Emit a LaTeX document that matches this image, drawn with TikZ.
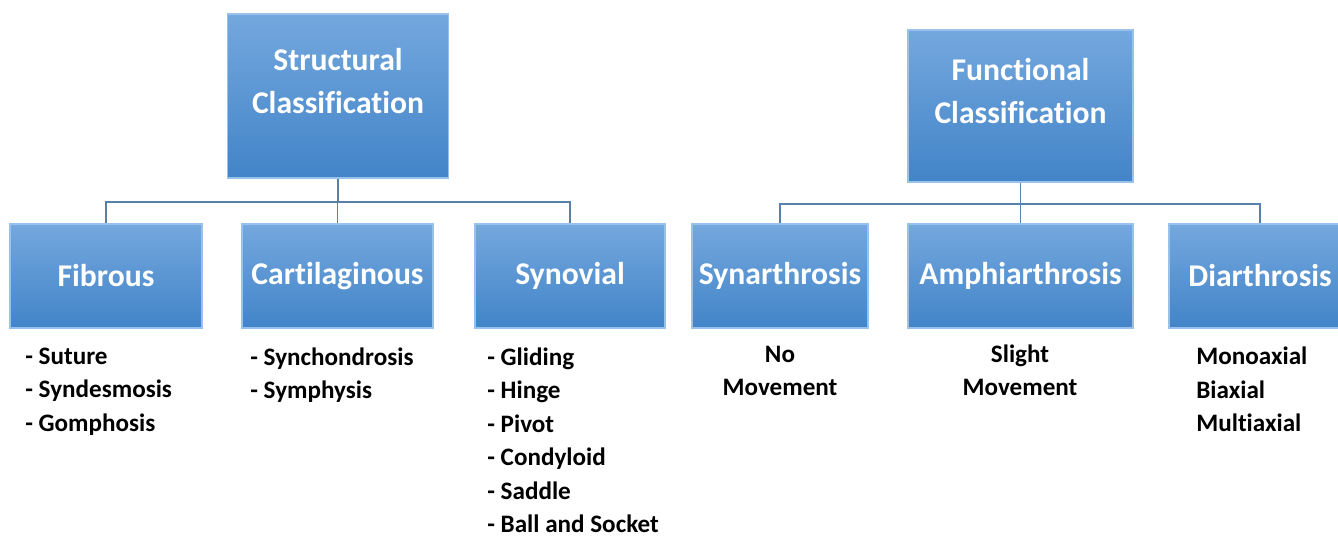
\documentclass[tikz,border=0pt]{standalone}
\usepackage{fontspec}
\setmainfont{Carlito}[Ligatures=NoCommon]
\usepackage{xcolor}
\usetikzlibrary{positioning}

\definecolor{boxtop}{RGB}{116,168,222}
\definecolor{boxbot}{RGB}{66,132,200}
\definecolor{boxedge}{RGB}{150,194,236}
\definecolor{linkcol}{RGB}{88,128,168}

\begin{document}
\begin{tikzpicture}
\tikzstyle{headbox} = [rectangle, draw=boxedge, line width=1pt, top color=boxtop, bottom color=boxbot, text=white, align=center, font=\fontsize{18}{24.4}\selectfont\bfseries]
\tikzstyle{kindbox} = [headbox, minimum height=2.08cm]
\tikzstyle{link} = [draw=linkcol, line width=0.9pt]
\tikzstyle{items} = [inner sep=0pt, font=\fontsize{14.3}{19}\selectfont\bfseries]

\useasboundingbox (0,0) rectangle (26.76,-10.7);
\clip (0,0) rectangle (26.76,-10.7);

% top level
\node (struct) [headbox, minimum width=4.42cm, minimum height=3.28cm, text depth=0.62cm] at (6.76,-1.92) {Structural\\Classification};
\node (func) [headbox, minimum width=4.5cm, minimum height=3.04cm, text depth=0.62cm] at (20.41,-2.12) {Functional\\Classification};

% second level
\node (cart) [kindbox, minimum width=3.82cm] at (6.75,-5.52) {Cartilaginous};
\node (fib) [kindbox, minimum width=3.84cm, left=0.765cm of cart] {Fibrous};
\node (syn) [kindbox, minimum width=3.8cm, right=0.805cm of cart] {Synovial};
\node (synar) [kindbox, minimum width=3.52cm, right=0.505cm of syn] {Synarthrosis};
\node (amphi) [kindbox, minimum width=4.5cm, right=0.765cm of synar] {Amphiarthrosis};
\node (diar) [kindbox, minimum width=3.64cm, right=0.685cm of amphi] {Diarthrosis};

% connectors
\foreach \kid in {fib, cart, syn}
  \draw [link] (struct.south) -- ++(0,-0.46) -| (\kid.north);
\foreach \kid in {synar, amphi, diar}
  \draw [link] (func.south) -- ++(0,-0.42) -| (\kid.north);

% lists
\node (fiblist) [items, anchor=north west, align=left] at (0.5,-6.95) {- Suture\\- Syndesmosis\\- Gomphosis};
\node (cartlist) [items, anchor=north west, align=left] at (5.0,-6.95) {- Synchondrosis\\- Symphysis};
\node (synlist) [items, anchor=north west, align=left] at (9.74,-6.95) {- Gliding\\- Hinge\\- Pivot\\- Condyloid\\- Saddle\\- Ball and Socket};
\node (synarlist) [items, anchor=north, align=center] at (15.6,-6.91) {No\\Movement};
\node (amphilist) [items, anchor=north, align=center] at (20.4,-6.89) {Slight\\Movement};
\node (diarlist) [items, anchor=north west, align=left] at (23.92,-6.94) {Monoaxial\\Biaxial\\Multiaxial};

\end{tikzpicture}
\end{document}
